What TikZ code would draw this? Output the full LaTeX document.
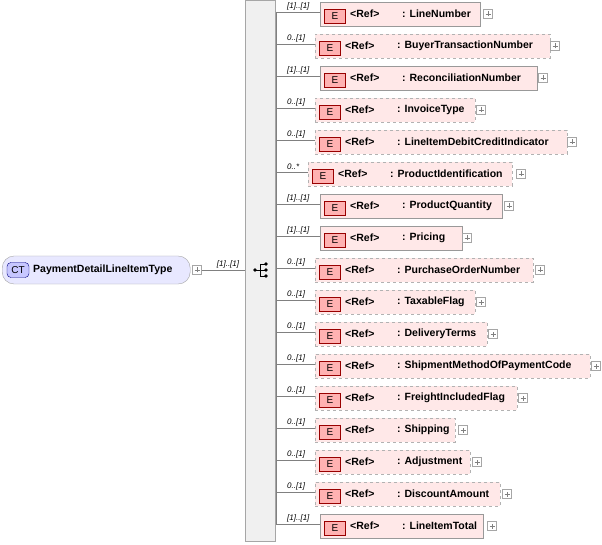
\documentclass[tikz,border=0pt]{standalone}
\usepackage{fontspec}
\setmainfont{Liberation Sans}
\begin{document}
\begin{tikzpicture}[x=1pt,y=-1pt,
  lbl/.style={font=\itshape\fontsize{8}{9}\selectfont,anchor=south west,inner sep=1pt},
  txt/.style={font=\bfseries\fontsize{10.5}{12}\selectfont,anchor=west,inner sep=0pt},
  plus/.style={draw=gray!70,fill=white,minimum size=9pt,inner sep=0pt,path picture={\draw[gray] ([xshift=-2.5pt]path picture bounding box.center) -- ([xshift=2.5pt]path picture bounding box.center) ([yshift=-2.5pt]path picture bounding box.center) -- ([yshift=2.5pt]path picture bounding box.center);}},
  ebadge/.style={draw=red!60!black,fill=red!30,minimum width=21pt,minimum height=14pt,inner sep=0pt,font=\fontsize{10}{11}\selectfont},
  solidbox/.style={draw=gray!80,fill=red!9},
  dashbox/.style={draw=gray!60,dashed,fill=red!9}]
\useasboundingbox (0,0) rectangle (602,545);
% sequence bar
\fill[gray!12] (245,0) rectangle (275,541);
\draw[gray!70] (245,0) rectangle (275,541);
% CT node
\node[draw=gray!70,fill=blue!9,rounded corners=12pt,minimum width=188pt,minimum height=28pt,anchor=west] (ct) at (2,270) {};
\node[draw=blue!50!black,fill=blue!22,rounded corners=4pt,minimum width=22pt,minimum height=15pt,inner sep=0pt,font=\fontsize{10}{11}\selectfont] (ctb) at (18,270) {CT};
\node[txt] (ctt) at (33,270) {PaymentDetailLineItemType};
\node[plus] (ctp) at (197,270) {};
\coordinate (seqin) at (245,270);
\draw[gray] (ctp.east) -- (seqin);
\node[lbl,anchor=south] at (228,269) {[1]..[1]};
% sequence icon
\draw (255,270) -- (260,270) (260,264) -- (260,276) (260,264) -- (266,264) (260,270) -- (266,270) (260,276) -- (266,276);
\fill (255,270) circle (1.8) (266,264) circle (1.8) (266,270) circle (1.8) (266,276) circle (1.8);
\draw[gray] (276,12) -- (276,524);
\foreach \y/\l/\r/\p/\s/\m/\n in {
 12/320/480/488/solidbox/{[1]..[1]}/LineNumber,
 44/315/550/555/dashbox/{0..[1]}/BuyerTransactionNumber,
 76/320/537/543/solidbox/{[1]..[1]}/ReconciliationNumber,
 108/315/475/481/dashbox/{0..[1]}/InvoiceType,
 140/315/567/572/dashbox/{0..[1]}/LineItemDebitCreditIndicator,
 172/308/512/521/dashbox/{0..*}/ProductIdentification,
 204/320/502/509/solidbox/{[1]..[1]}/ProductQuantity,
 236/320/462/467/solidbox/{[1]..[1]}/Pricing,
 268/315/533/540/dashbox/{0..[1]}/PurchaseOrderNumber,
 300/315/475/481/dashbox/{0..[1]}/TaxableFlag,
 332/315/487/493/dashbox/{0..[1]}/DeliveryTerms,
 364/315/590/596/dashbox/{0..[1]}/ShipmentMethodOfPaymentCode,
 396/315/517/523/dashbox/{0..[1]}/FreightIncludedFlag,
 428/315/455/463/dashbox/{0..[1]}/Shipping,
 460/315/470/477/dashbox/{0..[1]}/Adjustment,
 492/315/500/507/dashbox/{0..[1]}/DiscountAmount,
 524/320/483/492/solidbox/{[1]..[1]}/LineItemTotal} {
  \node[\s,minimum width={\r-\l},minimum height=24pt,inner sep=0pt,anchor=west] (b\y) at (\l,\y+2) {};
  \node[ebadge] (e\y) at (\l+15,\y+4) {E};
  \node[txt] at (\l+30,\y+2) {<Ref>};
  \node[txt] at (\l+82,\y+2) {: \n};
  \node[plus] (p\y) at (\p,\y+2) {};
  \draw[gray] (276,\y) -- (b\y.west|-0,\y);
  \node[lbl] at (286,\y-1) {\m};
}
\end{tikzpicture}
\end{document}
